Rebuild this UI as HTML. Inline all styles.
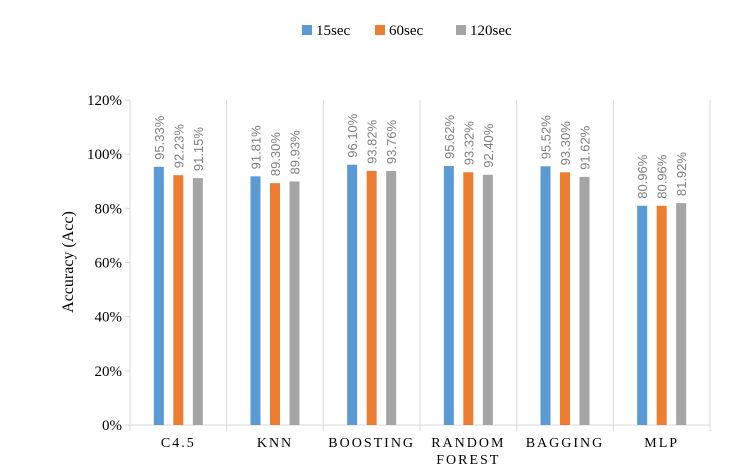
<!DOCTYPE html>
<html><head><meta charset="utf-8"><style>
body{margin:0;background:#fff;}
svg{display:block;font-family:"Liberation Serif",serif;}
</style></head><body>
<svg id="c" width="730" height="470"></svg>
<script>
const categories=["C4.5","KNN","BOOSTING","RANDOM FOREST","BAGGING","MLP"];
const catLines=[["C4.5"],["KNN"],["BOOSTING"],["RANDOM","FOREST"],["BAGGING"],["MLP"]];
const seriesNames=["15sec","60sec","120sec"];
const s15=[95.33,91.81,96.10,95.62,95.52,80.96];
const s60=[92.23,89.30,93.82,93.32,93.30,80.96];
const s120=[91.15,89.93,93.76,92.40,91.62,81.92];
const yTicks=[0,20,40,60,80,100,120];
const colors=["#5b9bd5","#ed7d31","#a5a5a5"];
const series=[s15,s60,s120];
const NS="http://www.w3.org/2000/svg";
const svg=document.getElementById("c");
const L=130,R=710,T=100,B=425;
const y=v=>B-(v/120)*(B-T);
const bw=(R-L)/categories.length;
const x=i=>L+bw*(i+0.5);
function mk(t,a,p){const e=document.createElementNS(NS,t);for(const k in a)e.setAttribute(k,a[k]);(p||svg).appendChild(e);return e;}
yTicks.forEach(v=>{
 const t=mk("text",{x:L-8,y:y(v)+5,"text-anchor":"end","font-size":"15",fill:"#000"});t.textContent=v+"%";
 
 
 const tk=mk("line",{x1:L-5,x2:L,y1:y(v),y2:y(v),stroke:"#d9d9d9"});
 
 
});
for(let i=0;i<=categories.length;i++){
 const g=mk("line",{x1:L+bw*i,x2:L+bw*i,y1:T,y2:B+6,stroke:"#d9d9d9"});
 
 
}
const ax=mk("line",{x1:L,x2:R,y1:B,y2:B,stroke:"#d9d9d9"});


categories.forEach((c,i)=>{
 series.forEach((s,j)=>{
  const cx=x(i)+(j-1)*19.5;
  const r=mk("rect",{x:cx-5,y:y(s[i]),width:10,height:B-y(s[i]),fill:colors[j]});
  
  
  const ty=y(s[i])-7;
  const t=mk("text",{x:cx+5,y:ty,transform:`rotate(-90 ${cx+5} ${ty})`,"font-size":"13",fill:"#7f7f7f","font-family":"Liberation Sans, sans-serif"});
  t.textContent=s[i].toFixed(2)+"%";
  
  
 });
 catLines[i].forEach((ln,k)=>{
  const t=mk("text",{x:x(i),y:B+22+k*17,"text-anchor":"middle","font-size":"14","letter-spacing":"2",fill:"#000"});
  t.textContent=ln;
  
  
 });
});
const yt=mk("text",{x:73,y:262,transform:"rotate(-90 73 262)","text-anchor":"middle","font-size":"16",fill:"#000"});
yt.textContent="Accuracy (Acc)";


const lx=[302,375,456];
seriesNames.forEach((n,j)=>{
 const g=mk("g",{});
 
 
 mk("rect",{x:lx[j],y:25,width:10,height:10,fill:colors[j]},g);
 const t=mk("text",{x:lx[j]+14,y:35,"font-size":"15",fill:"#000"},g);t.textContent=n;
});
</script>
</body></html>
